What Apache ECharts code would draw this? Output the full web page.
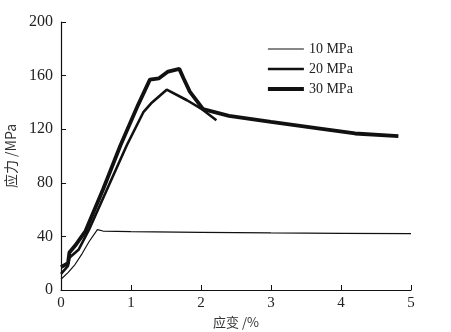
<!DOCTYPE html>
<html>
<head>
<meta charset="utf-8">
<script src="https://cdn.jsdelivr.net/npm/echarts@6/dist/echarts.min.js"></script>
<style>
  html, body { margin: 0; padding: 0; background: #fff; }
  #main { width: 451px; height: 332px; }
</style>
</head>
<body>
<div id="main"></div>
<script>
// 应变 (%) / 应力 (MPa) pairs
var s10 = [[0, 8], [0.1, 13], [0.2, 19], [0.3, 27], [0.4, 36], [0.52, 45], [0.6, 44],
           [1, 43.5], [2, 43], [3, 42.6], [4, 42.3], [5, 42.1]];
var s20 = [[0, 12], [0.1, 18], [0.12, 24], [0.25, 30], [0.4, 45], [0.7, 80], [0.94, 108],
           [1.18, 133], [1.3, 140], [1.51, 149.5], [1.8, 141.6], [2.0, 135.4], [2.22, 126.7]];
var s30 = [[0, 17], [0.1, 20], [0.12, 28], [0.2, 33], [0.35, 44], [0.6, 75], [0.85, 108],
           [1.1, 138], [1.27, 157], [1.4, 158], [1.53, 163], [1.69, 165], [1.75, 158],
           [1.84, 148], [2.03, 135], [2.4, 130], [3, 125.4], [3.7, 120.5], [4.2, 116.8], [4.82, 114.8]];
var names = ['10 MPa', '20 MPa', '30 MPa'];
var widths = [1.2, 2.6, 3.8];

var font = '"Liberation Serif", "Times New Roman", serif';
var chart = echarts.init(document.getElementById('main'));

chart.setOption({
    backgroundColor: '#fff',
    animation: false,
    grid: { left: 61, right: 40, top: 22, bottom: 42, containLabel: false, outerBoundsMode: 'none' },
    legend: {
        orient: 'vertical',
        left: 261,
        top: 37,
        itemWidth: 36,
        itemHeight: 10,
        itemGap: 6,
        itemStyle: { opacity: 0 },
        textStyle: { fontFamily: font, fontSize: 14, color: '#222' },
        data: names.map(function (n, i) {
            return { name: n, lineStyle: { width: widths[i], color: '#111' } };
        })
    },
    xAxis: {
        type: 'value',
        min: 0, max: 5, interval: 1,
        name: '应变 /%',
        nameLocation: 'middle',
        nameGap: 25,
        nameTextStyle: { fontFamily: '"Noto Sans CJK SC", serif', fontSize: 13, color: '#333' },
        axisLine: { lineStyle: { color: '#111', width: 1.2 } },
        axisTick: { inside: true, length: 5, lineStyle: { color: '#111' } },
        axisLabel: { fontFamily: font, fontSize: 15, color: '#222', margin: 6 },
        splitLine: { show: false }
    },
    yAxis: {
        type: 'value',
        min: 0, max: 200, interval: 40,
        name: '应力 /MPa',
        nameLocation: 'middle',
        nameGap: 34,
        nameTextStyle: { fontFamily: '"Noto Sans CJK SC", serif', fontSize: 14, color: '#333' },
        axisLine: { show: true, lineStyle: { color: '#111', width: 1.2 } },
        axisTick: { show: true, inside: true, length: 5, lineStyle: { color: '#111' } },
        axisLabel: { fontFamily: font, fontSize: 16, color: '#222', margin: 8 },
        splitLine: { show: false }
    },
    series: [s10, s20, s30].map(function (d, i) {
        return {
            name: names[i],
            type: 'line',
            data: d,
            symbol: 'none',
            smooth: false,
            lineStyle: { color: '#111', width: widths[i] },
            itemStyle: { color: '#111' }
        };
    })
});
</script>
</body>
</html>
